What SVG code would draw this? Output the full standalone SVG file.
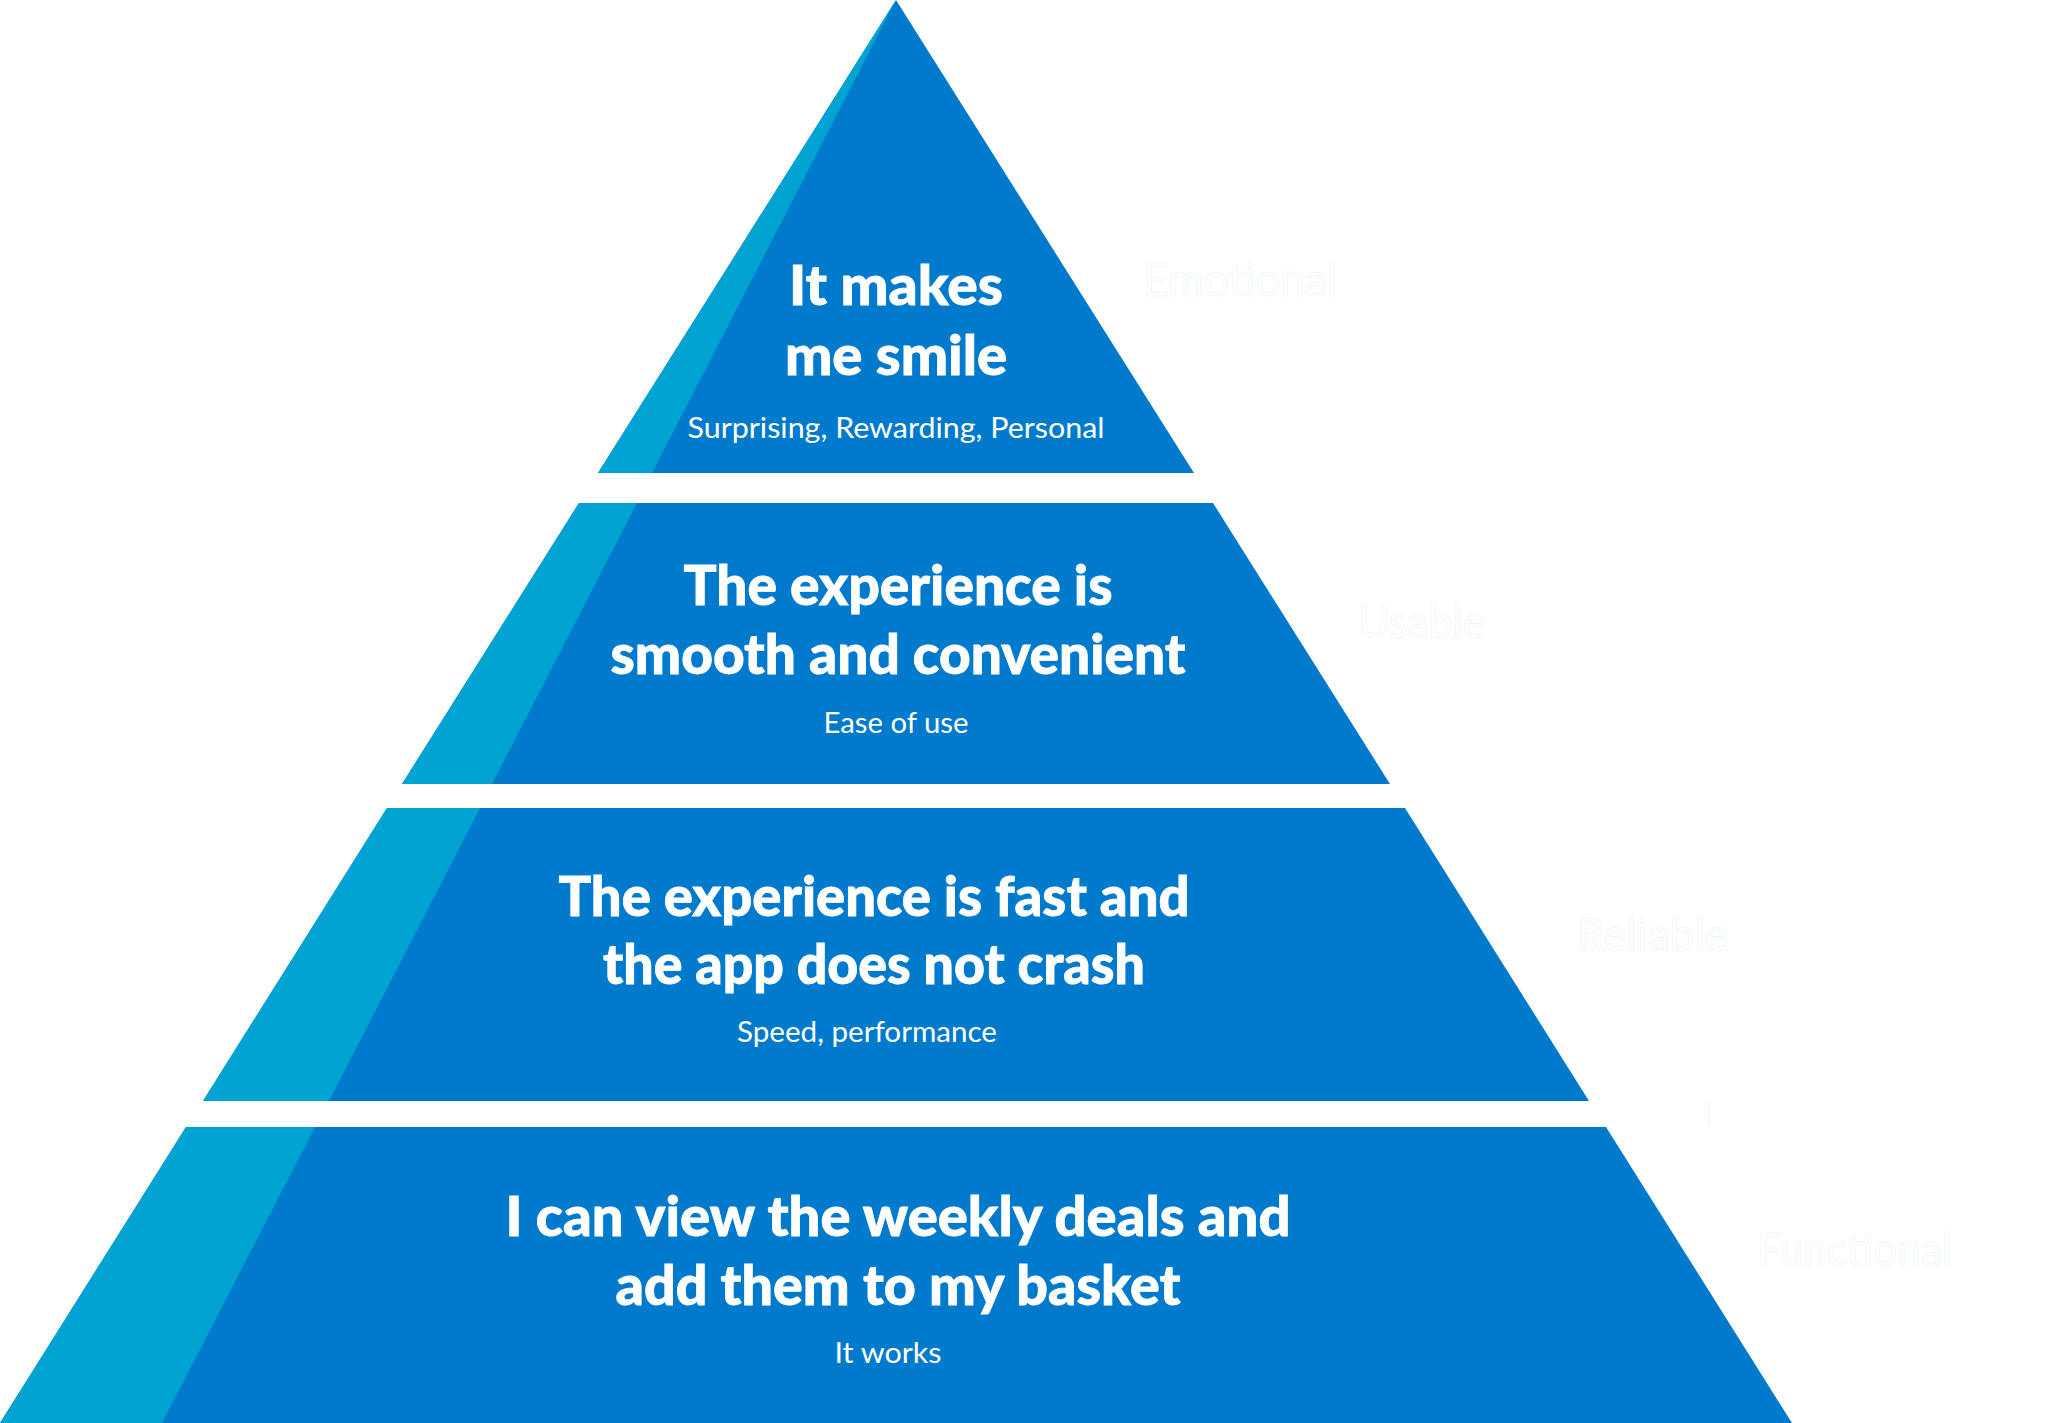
<svg xmlns="http://www.w3.org/2000/svg" width="2048" height="1423" viewBox="0 0 2048 1423">
  <style>
    .dark { fill: #007ACC; }
    .light { fill: #00A3D2; }
    .head { font-family: Lato, "Noto Sans", "Liberation Sans", sans-serif; font-weight: 900; font-size: 55px; fill: #ffffff; stroke: #ffffff; stroke-width: 0.8; text-anchor: middle; }
    .sub { font-family: Lato, "Noto Sans", "Liberation Sans", sans-serif; font-weight: 400; font-size: 28px; fill: #ffffff; text-anchor: middle; }
    .ghost { font-family: Lato, "Noto Sans", "Liberation Sans", sans-serif; font-weight: 400; font-size: 46px; fill: #ffffff; stroke: #e9f2fb; stroke-width: 0.6; }
  </style>
  <rect width="2048" height="1423" fill="#ffffff"/>

  <g id="tier-emotional">
    <polygon class="dark" points="896,0 1194,473 598,473"/>
    <polygon class="light" points="896,0 652,473 598,473"/>
    <text class="head" x="896" y="305" textLength="214" lengthAdjust="spacingAndGlyphs">It makes</text>
    <text class="head" x="896" y="375" textLength="222" lengthAdjust="spacingAndGlyphs">me smile</text>
    <text class="sub" x="896" y="438" textLength="417" lengthAdjust="spacingAndGlyphs">Surprising, Rewarding, Personal</text>
  </g>

  <g id="tier-usable">
    <polygon class="dark" points="579,503 1213,503 1390,784 402,784"/>
    <polygon class="light" points="579,503 637,503 492,784 402,784"/>
    <text class="head" x="898" y="605" textLength="429" lengthAdjust="spacingAndGlyphs">The experience is</text>
    <text class="head" x="898" y="674" textLength="575" lengthAdjust="spacingAndGlyphs">smooth and convenient</text>
    <text class="sub" x="896" y="733" textLength="145" lengthAdjust="spacingAndGlyphs">Ease of use</text>
  </g>

  <g id="tier-reliable">
    <polygon class="dark" points="387,808 1405,808 1589,1101 203,1101"/>
    <polygon class="light" points="387,808 480,808 329,1101 203,1101"/>
    <text class="head" x="874" y="916" textLength="631" lengthAdjust="spacingAndGlyphs">The experience is fast and</text>
    <text class="head" x="874" y="984" textLength="542" lengthAdjust="spacingAndGlyphs">the app does not crash</text>
    <text class="sub" x="867" y="1042" textLength="260" lengthAdjust="spacingAndGlyphs">Speed, performance</text>
  </g>

  <g id="tier-functional">
    <polygon class="dark" points="186,1127 1606,1127 1792,1423 0,1423"/>
    <polygon class="light" points="186,1127 315,1127 162,1423 0,1423"/>
    <text class="head" x="898" y="1236" textLength="785" lengthAdjust="spacingAndGlyphs">I can view the weekly deals and</text>
    <text class="head" x="898" y="1305" textLength="565" lengthAdjust="spacingAndGlyphs">add them to my basket</text>
    <text class="sub" x="888" y="1363" textLength="107" lengthAdjust="spacingAndGlyphs">It works</text>
  </g>

  <g id="side-labels">
    <text class="ghost" x="1143" y="296" textLength="194" lengthAdjust="spacingAndGlyphs">Emotional</text>
    <text class="ghost" x="1358" y="638" textLength="127" lengthAdjust="spacingAndGlyphs">Usable</text>
    <text class="ghost" x="1577" y="951" textLength="151" lengthAdjust="spacingAndGlyphs">Reliable</text>
    <line x1="1709" y1="1102" x2="1709" y2="1126" stroke="#e9f2fb" stroke-width="1"/>
    <text class="ghost" x="1757" y="1266" textLength="195" lengthAdjust="spacingAndGlyphs">Functional</text>
  </g>
</svg>
